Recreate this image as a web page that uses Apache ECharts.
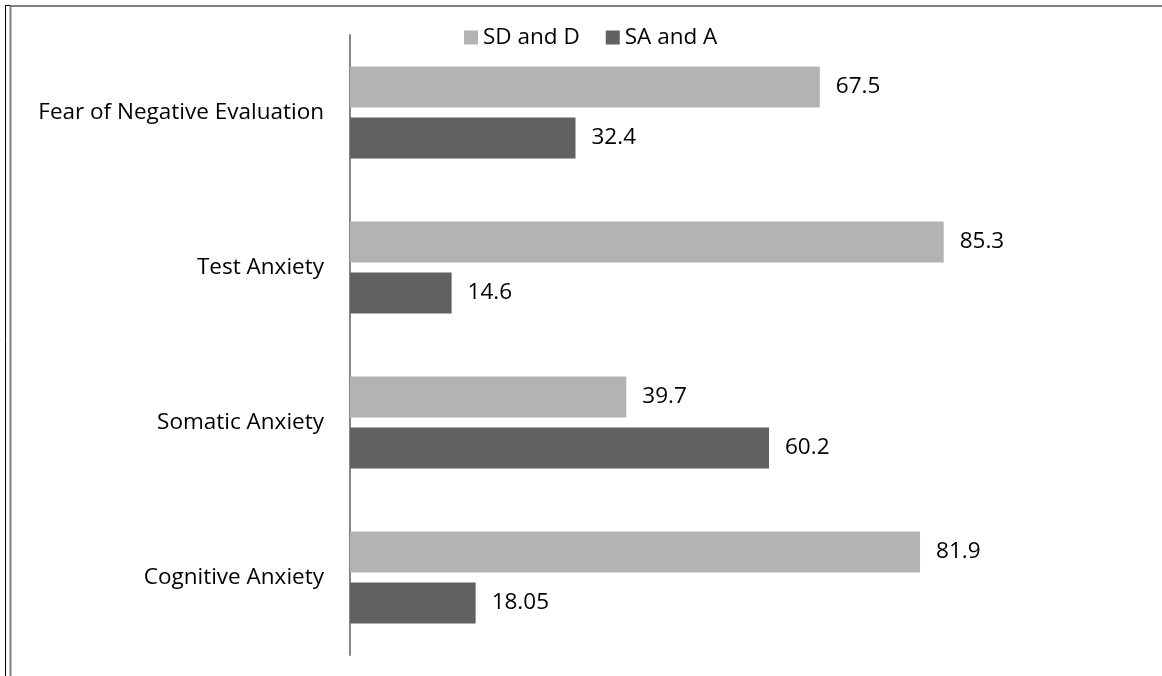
<!DOCTYPE html>
<html>
<head>
<meta charset="utf-8">
<title>Anxiety components: SD and D vs SA and A</title>
<script src="https://cdn.jsdelivr.net/npm/echarts@6/dist/echarts.min.js"></script>
<style>
  html, body { margin: 0; padding: 0; background: #ffffff; }
  #chart { width: 1162px; height: 676px; }
</style>
</head>
<body>
<div id="chart"></div>
<script>
// Categories listed top to bottom
const categories = ['Fear of Negative Evaluation', 'Test Anxiety', 'Somatic Anxiety', 'Cognitive Anxiety'];
const seriesNames = ['SD and D', 'SA and A'];
const sdAndD = [67.5, 85.3, 39.7, 81.9];
const saAndA = [32.4, 14.6, 60.2, 18.05];

const FONT = '"Open Sans", "DejaVu Sans", sans-serif';
const chart = echarts.init(document.getElementById('chart'), null, { renderer: 'canvas' });

const labelStyle = {
  show: true,
  position: 'right',
  distance: 16,
  color: '#000000',
  fontFamily: FONT,
  fontSize: 22.5
};

chart.setOption({
  backgroundColor: '#ffffff',
  animation: false,
  // frame lines along the top and left edges
  graphic: [
    { type: 'line', shape: { x1: 5.5, y1: 5, x2: 5.5, y2: 676 }, style: { stroke: '#000000', lineWidth: 1 } },
    { type: 'line', shape: { x1: 5, y1: 5.5, x2: 11, y2: 5.5 }, style: { stroke: '#000000', lineWidth: 1 } },
    { type: 'line', shape: { x1: 10, y1: 6, x2: 1162, y2: 6 }, style: { stroke: '#808080', lineWidth: 2 } },
    { type: 'line', shape: { x1: 10.5, y1: 6, x2: 10.5, y2: 676 }, style: { stroke: '#808080', lineWidth: 2 } }
  ],
  legend: {
    data: seriesNames,
    left: 459,
    top: 21,
    icon: 'rect',
    itemWidth: 14,
    itemHeight: 14,
    itemGap: 26,
    textStyle: { color: '#000000', fontFamily: FONT, fontSize: 22.5 }
  },
  grid: { left: 350, right: 116, top: 35, bottom: 21, containLabel: false },
  xAxis: {
    type: 'value',
    min: 0,
    max: 100,
    axisLine: { show: false },
    axisTick: { show: false },
    axisLabel: { show: false },
    splitLine: { show: false }
  },
  yAxis: {
    type: 'category',
    data: categories,
    inverse: true,
    axisLine: { show: true, lineStyle: { color: '#868686', width: 2 } },
    axisTick: { show: false },
    axisLabel: { color: '#000000', fontFamily: FONT, fontSize: 22.5, margin: 26 }
  },
  series: [
    {
      name: seriesNames[0],
      type: 'bar',
      data: sdAndD,
      barWidth: 41,
      barGap: '24%',
      itemStyle: { color: '#b3b3b3' },
      label: labelStyle
    },
    {
      name: seriesNames[1],
      type: 'bar',
      data: saAndA,
      barWidth: 41,
      barGap: '24%',
      itemStyle: { color: '#616161' },
      label: labelStyle
    }
  ]
});
</script>
</body>
</html>
